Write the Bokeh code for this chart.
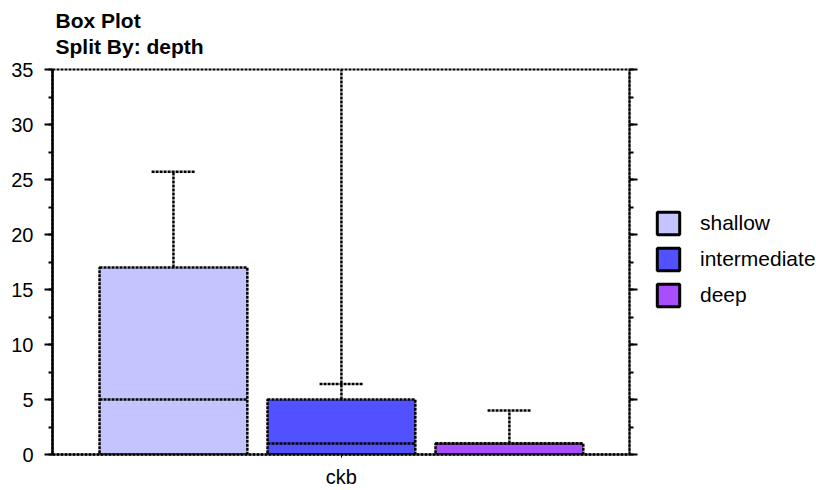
from bokeh.plotting import figure
from bokeh.layouts import row, column
from bokeh.models import (Range1d, LinearAxis, SingleIntervalTicker, FixedTicker, Label,
                          Legend, LegendItem, ColumnDataSource, CustomJSTickFormatter)
from bokeh.embed import file_html
from bokeh.resources import INLINE

# Box statistics for variable "ckb", split by depth
category = "ckb"
groups = ["shallow", "intermediate", "deep"]
q1 = [0.0, 0.0, 0.0]
median = [5.0, 1.0, 1.0]
q3 = [17.0, 5.0, 1.0]
whisker_hi = [25.7, 6.4, 4.0]
line_top = [25.7, 35.0, 4.0]
colors = ["#C4C4FF", "#5151FF", "#A94EFF"]
title_lines = ["Box Plot", "Split By: depth"]

FONT = "Liberation Sans"
DASH = "3 1"
LW = 2.5

positions = [0, 1, 2]
box_w = 0.88
cap_w = 0.26


def blank(width, height):
    f = figure(width=width, height=height, output_backend="svg", toolbar_location=None,
               x_range=Range1d(0, 1), y_range=Range1d(0, 1),
               x_axis_type=None, y_axis_type=None, min_border=0)
    f.grid.visible = False
    f.outline_line_color = None
    f.border_fill_color = "white"
    return f


# title strip
tf = blank(816, 58)
for txt, yy in zip(title_lines, [38, 12]):
    tf.add_layout(Label(x=55, y=yy, x_units="screen", y_units="screen", text=txt,
                        text_font=FONT, text_font_size="21px", text_font_style="bold",
                        text_color="black", text_baseline="alphabetic"))

# main box plot
p = figure(width=640, height=432, output_backend="svg", toolbar_location=None,
           x_range=Range1d(-0.72, 2.715), y_range=Range1d(0, 35),
           min_border_left=52, min_border_right=11, min_border_top=11, min_border_bottom=36,
           x_axis_type=None, y_axis_type=None)
p.grid.visible = False
p.outline_line_color = "black"
p.outline_line_dash = DASH
p.outline_line_width = 2
p.background_fill_color = "white"
p.border_fill_color = "white"

src = ColumnDataSource(dict(
    x=positions,
    left=[c - box_w / 2 for c in positions],
    right=[c + box_w / 2 for c in positions],
    cap_l=[c - cap_w / 2 for c in positions],
    cap_r=[c + cap_w / 2 for c in positions],
    q1=q1, med=median, q3=q3, hi=whisker_hi, top=line_top, color=colors,
))

# whisker stems, caps, boxes, medians
p.segment(x0="x", y0="q3", x1="x", y1="top", source=src,
          line_color="black", line_width=LW, line_dash=DASH)
p.segment(x0="cap_l", y0="hi", x1="cap_r", y1="hi", source=src,
          line_color="black", line_width=LW, line_dash=DASH)
p.quad(left="left", right="right", bottom="q1", top="q3", source=src,
       fill_color="color", line_color="black", line_width=LW, line_dash=DASH)
p.segment(x0="left", y0="med", x1="right", y1="med", source=src,
          line_color="black", line_width=LW, line_dash=DASH)

# y axes (left with labels, right with ticks only)
yl = LinearAxis(ticker=SingleIntervalTicker(interval=5, num_minor_ticks=2))
yl.axis_line_color = "black"
yl.axis_line_width = 2.5
yl.major_tick_out = 8
yl.major_tick_in = 0
yl.minor_tick_out = 4
yl.minor_tick_in = 0
yl.major_tick_line_width = 2
yl.minor_tick_line_width = 2
yl.major_label_standoff = 11
yl.major_label_text_font = FONT
yl.major_label_text_font_size = "20px"
yl.major_label_text_color = "black"
p.add_layout(yl, "left")

yr = LinearAxis(ticker=SingleIntervalTicker(interval=5, num_minor_ticks=2),
                formatter=CustomJSTickFormatter(code="return ''"))
yr.axis_line_color = "black"
yr.axis_line_width = 2
yr.axis_line_dash = DASH
yr.major_tick_out = 8
yr.major_tick_in = 0
yr.minor_tick_out = 4
yr.minor_tick_in = 0
yr.major_tick_line_width = 2
yr.minor_tick_line_width = 2
yr.major_label_standoff = 0
p.add_layout(yr, "right")

# x axis with the single category tick
xa = LinearAxis(ticker=FixedTicker(ticks=[1], minor_ticks=[]),
                major_label_overrides={1: category})
xa.axis_line_color = "black"
xa.axis_line_width = 2.5
xa.axis_line_dash = DASH
xa.major_tick_out = 3
xa.major_tick_in = 0
xa.major_label_standoff = 8
xa.major_label_text_font = FONT
xa.major_label_text_font_size = "20px"
xa.major_label_text_color = "black"
p.add_layout(xa, "below")

# legend panel on the right
lg = blank(176, 432)
items = []
nan = float("nan")
for name, col in zip(groups, colors):
    r = lg.quad(left=[nan], right=[nan], bottom=[nan], top=[nan], fill_color=col,
                line_color="black", line_width=3)
    items.append(LegendItem(label=name, renderers=[r]))
leg = Legend(items=items, location=(14, 145), glyph_width=28, glyph_height=28,
             spacing=8, label_standoff=18, padding=0, margin=0,
             label_text_font=FONT, label_text_font_size="21px", label_text_color="black",
             border_line_color=None, background_fill_alpha=0)
lg.add_layout(leg, "center")

layout = column(tf, row(p, lg))
open("out.html", "w").write(file_html(layout, INLINE))
